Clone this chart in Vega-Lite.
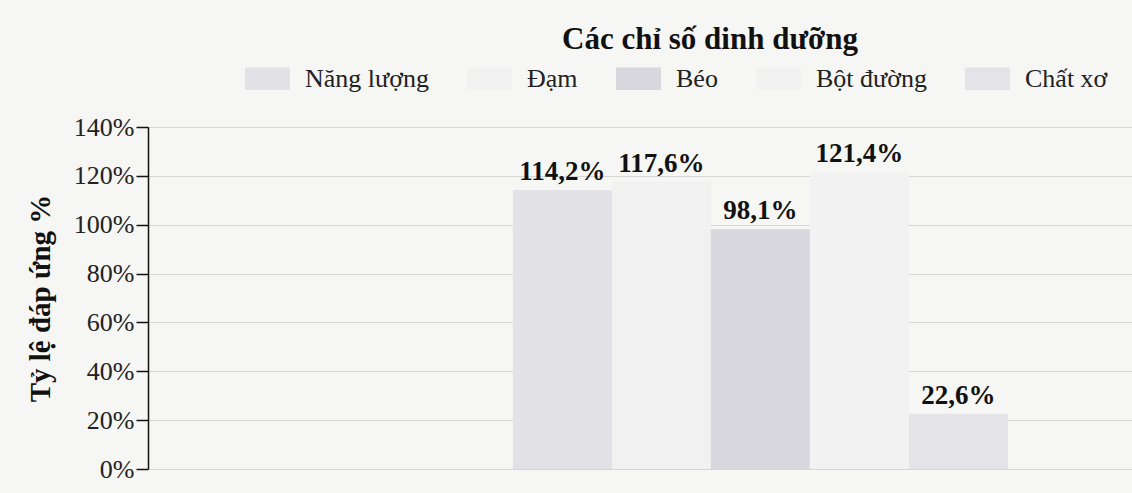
{
  "$schema": "https://vega.github.io/schema/vega-lite/v6.json",
  "width": 984,
  "height": 342,
  "autosize": {"type": "none"},
  "padding": {"left": 148, "top": 127, "right": 0, "bottom": 24},
  "background": "#f6f6f4",
  "title": {
    "text": "Các chỉ số dinh dưỡng",
    "font": "Liberation Serif",
    "fontSize": 31,
    "fontWeight": "bold",
    "color": "#111111",
    "anchor": "middle",
    "dx": 70,
    "offset": 0
  },
  "data": {
    "values": [
      {"chi_so": "Năng lượng", "ty_le": 114.2, "nhan": "114,2%"},
      {"chi_so": "Đạm", "ty_le": 117.6, "nhan": "117,6%"},
      {"chi_so": "Béo", "ty_le": 98.1, "nhan": "98,1%"},
      {"chi_so": "Bột đường", "ty_le": 121.4, "nhan": "121,4%"},
      {"chi_so": "Chất xơ", "ty_le": 22.6, "nhan": "22,6%"}
    ]
  },
  "encoding": {
    "x": {
      "field": "chi_so",
      "type": "nominal",
      "sort": null,
      "scale": {
        "domain": [" ", "  ", "   ", "Năng lượng", "Đạm", "Béo", "Bột đường", "Chất xơ", "    "],
        "paddingInner": 0,
        "paddingOuter": 0.47,
        "align": 0.73
      },
      "axis": null
    },
    "y": {
      "field": "ty_le",
      "type": "quantitative",
      "scale": {"domain": [0, 140]},
      "axis": {
        "title": "Tỷ lệ đáp ứng %",
        "titleFont": "Liberation Serif",
        "titleFontSize": 29,
        "titleFontWeight": "bold",
        "titleColor": "#111111",
        "titlePadding": 18,
        "values": [0, 20, 40, 60, 80, 100, 120, 140],
        "labelExpr": "datum.value + '%'",
        "labelFont": "Liberation Serif",
        "labelFontSize": 26,
        "labelColor": "#222222",
        "labelPadding": 2,
        "tickSize": 12,
        "tickColor": "#111111",
        "tickWidth": 1.5,
        "domainColor": "#111111",
        "domainWidth": 1.5,
        "grid": true,
        "gridColor": "#d6d6d6",
        "gridWidth": 1
      }
    }
  },
  "layer": [
    {
      "mark": {"type": "bar"},
      "encoding": {
        "color": {
          "field": "chi_so",
          "type": "nominal",
          "sort": null,
          "scale": {
            "domain": ["Năng lượng", "Đạm", "Béo", "Bột đường", "Chất xơ"],
            "range": ["#e1e1e6", "#f1f1f2", "#d7d7dd", "#f2f2f2", "#e3e3e8"]
          },
          "legend": {
            "title": null,
            "orient": "none",
            "legendX": 97,
            "legendY": -71,
            "direction": "horizontal",
            "symbolType": "M-1,-0.5H1V0.5H-1Z",
            "symbolSize": 2025,
            "symbolStrokeWidth": 0,
            "symbolOpacity": 1,
            "labelFont": "Liberation Serif",
            "labelFontSize": 26,
            "labelColor": "#222222",
            "labelOffset": 15,
            "columnPadding": 38,
            "labelLimit": 300
          }
        }
      }
    },
    {
      "mark": {
        "type": "text",
        "baseline": "bottom",
        "dy": -4,
        "font": "Liberation Serif",
        "fontSize": 27,
        "fontWeight": "bold",
        "color": "#111111"
      },
      "encoding": {
        "text": {"field": "nhan", "type": "nominal"}
      }
    }
  ]
}
